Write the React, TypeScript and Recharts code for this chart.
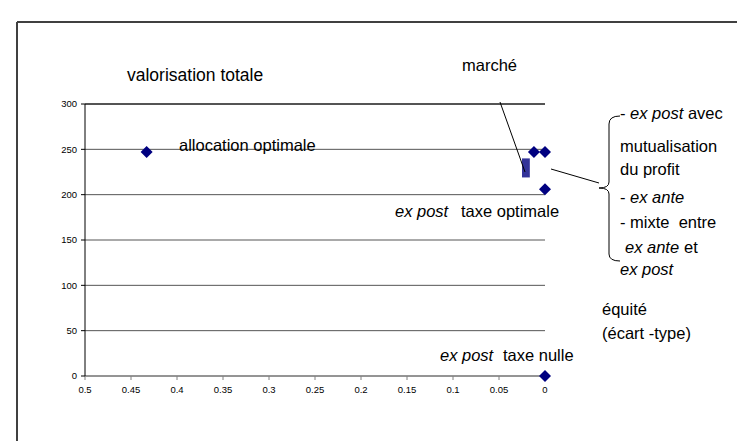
import { CartesianGrid, ReferenceArea, ReferenceLine, Scatter, ScatterChart, XAxis, YAxis } from 'recharts'

// equity (std dev) on x, total valuation on y
const equityValues = [0.433, 0.012, 0, 0, 0]
const valuationValues = [247, 247, 247, 206, 0]
const marketEquity = [0.025, 0.0165]
const marketValuation = [219, 240]
const xTicks = [0, 0.05, 0.1, 0.15, 0.2, 0.25, 0.3, 0.35, 0.4, 0.45, 0.5]
const yTicks = [0, 50, 100, 150, 200, 250, 300]

const points = equityValues.map((x, i) => ({ x, y: valuationValues[i] }))

const font = '"Liberation Sans", Arial, sans-serif'
const navy = '#000080'

function Diamond(props: any) {
  const { cx, cy } = props
  const r = 6
  return (
    <polygon
      points={`${cx},${cy - r} ${cx + r},${cy} ${cx},${cy + r} ${cx - r},${cy}`}
      fill={navy}
    />
  )
}

function Annotations() {
  const t = { fontFamily: font, fontSize: 16.5, fill: '#000' }
  const it = { fontStyle: 'italic' as const }
  return (
    <svg
      width={745}
      height={441}
      style={{ position: 'absolute', left: 0, top: 0, pointerEvents: 'none' }}
    >
      <line x1={9} y1={14} x2={745} y2={14} stroke="#404040" strokeWidth={2} />
      <line x1={9} y1={14} x2={9} y2={441} stroke="#404040" strokeWidth={2} />

      <text x={119} y={73} {...t} fontSize={17.5}>valorisation totale</text>
      <text x={171} y={143} {...t}>allocation optimale</text>
      <text x={454} y={63} {...t}>marché</text>
      <line x1={492} y1={94} x2={517} y2={164} stroke="#000" strokeWidth={1} />

      <text x={387} y={209} {...t}>
        <tspan {...it}>ex post</tspan>
        <tspan x={453}>taxe optimale</tspan>
      </text>
      <text x={432} y={353} {...t}>
        <tspan {...it}>ex post</tspan>
        <tspan x={495}>taxe nulle</tspan>
      </text>

      <line x1={543} y1={161} x2={591} y2={175} stroke="#000" strokeWidth={1} />
      <path
        d="M 612 108 Q 601 108 601 116 L 601 174 Q 601 180 591 180 Q 601 180 601 186 L 601 246 Q 601 253 612 253"
        fill="none"
        stroke="#000"
        strokeWidth={1}
      />
      <text x={612} y={111} {...t}>
        - <tspan {...it}>ex post</tspan> avec
      </text>
      <text x={612} y={144} {...t}>mutualisation</text>
      <text x={612} y={167} {...t}>du profit</text>
      <text x={612} y={195} {...t}>
        - <tspan {...it}>ex ante</tspan>
      </text>
      <text x={612} y={220} {...t} style={{ whiteSpace: 'pre' }}>- mixte  entre</text>
      <text x={617} y={245} {...t}>
        <tspan {...it}>ex ante</tspan>
        <tspan x={676}>et</tspan>
      </text>
      <text x={612} y={267} {...t} {...it}>ex post</text>

      <text x={594} y={307} {...t}>équité</text>
      <text x={594} y={331} {...t}>(écart -type)</text>
    </svg>
  )
}

export default function App() {
  const tick = { fontFamily: font, fontSize: 9.5, fill: '#000' }
  return (
    <div style={{ position: 'relative', width: 737, height: 433 }}>
      <ScatterChart width={737} height={433} margin={{ top: 96, right: 200, bottom: 35, left: 37 }}>
        <CartesianGrid horizontal vertical={false} stroke="#555" />
        <ReferenceLine y={300} stroke="#000" />
        <XAxis
          type="number"
          dataKey="x"
          domain={[0, 0.5]}
          reversed
          ticks={xTicks}
          interval={0}
          height={30}
          tick={tick}
          tickSize={4}
          tickMargin={6}
          stroke="#808080"
          tickLine={{ stroke: '#808080' }}
        />
        <YAxis
          type="number"
          dataKey="y"
          domain={[0, 300]}
          ticks={yTicks}
          interval={0}
          width={40}
          tick={tick}
          tickSize={4}
          tickMargin={4}
          stroke="#000"
        />
        <ReferenceArea
          x1={marketEquity[0]}
          x2={marketEquity[1]}
          y1={marketValuation[0]}
          y2={marketValuation[1]}
          fill="#333399"
          fillOpacity={1}
          stroke="none"
        />
        <Scatter data={points} shape={<Diamond />} isAnimationActive={false} />
      </ScatterChart>
      <Annotations />
    </div>
  )
}
